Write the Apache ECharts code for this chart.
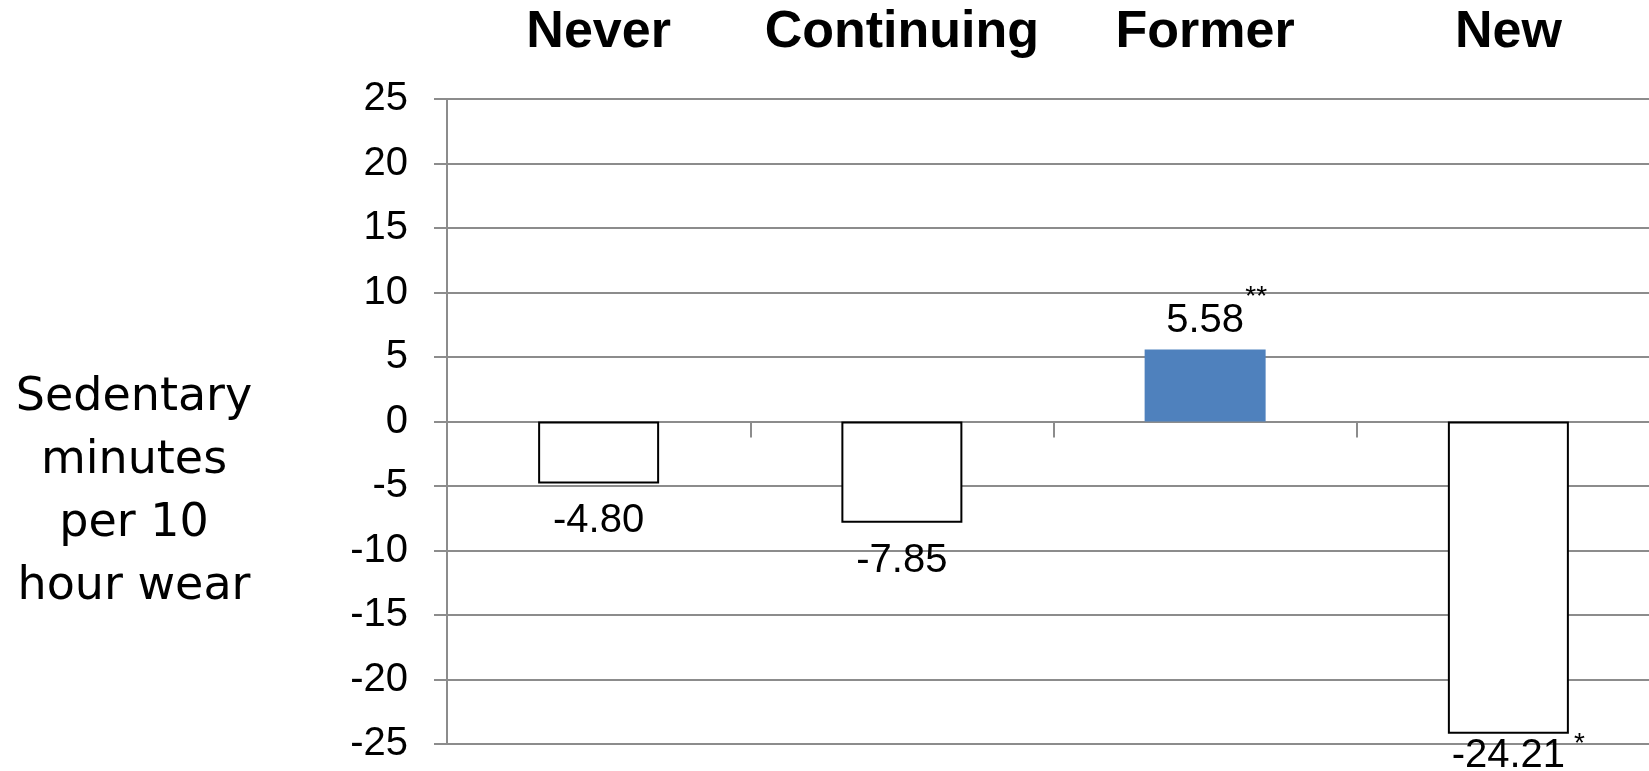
<!DOCTYPE html>
<html>
<head>
<meta charset="utf-8">
<script src="https://cdn.jsdelivr.net/npm/echarts@6/dist/echarts.min.js"></script>
<style>
  html, body { margin: 0; padding: 0; background: #ffffff; }
  #chart { width: 1649px; height: 771px; }
</style>
</head>
<body>
<div id="chart"></div>
<script>
// Change in sedentary minutes per 10 hours of wear, by group
const categories = ['Never', 'Continuing', 'Former', 'New'];
const changes = [-4.80, -7.85, 5.58, -24.21];
const significance = ['', '', '**', '*'];
const yMin = -25;
const yMax = 25;
const yStep = 5;
const yTitleLines = ['Sedentary', 'minutes', 'per 10', 'hour wear'];

const TITLE_FONT = '"DejaVu Sans", Verdana, sans-serif';
const NUM_FONT = '"Liberation Sans", Arial, sans-serif';
const GRID_GRAY = '#8c8c8c';

const chart = echarts.init(document.getElementById('chart'), null, { renderer: 'canvas' });

// value labels: above positive bars, below negative ones
const barData = changes.map((v, i) => ({
  value: v,
  itemStyle: v >= 0
    ? { color: '#4f81bd', borderWidth: 0 }
    : { color: '#ffffff', borderColor: '#000000', borderWidth: 2 },
  label: {
    show: true,
    position: v >= 0 ? 'top' : 'bottom',
    distance: v >= 0 ? 9 : (significance[i] ? 2 : 18)
  }
}));

// significance markers sit at the outer corner of their bar
const markData = changes.map((v, i) => ({
  value: v,
  label: significance[i]
    ? {
        show: true,
        position: v >= 0 ? 'top' : 'bottom',
        distance: v >= 0 ? 38 : -4,
        offset: v >= 0 ? [51, 0] : [71, 0]
      }
    : { show: false }
}));

chart.setOption({
  animation: false,
  backgroundColor: '#ffffff',
  grid: { left: 447, top: 99, width: 1213, height: 645, containLabel: false, outerBoundsMode: 'none' },
  xAxis: [
    {
      type: 'category',
      data: categories,
      position: 'bottom',
      boundaryGap: true,
      axisLine: { show: true, onZero: true, lineStyle: { color: GRID_GRAY, width: 2 } },
      axisTick: { show: true, length: 16, alignWithLabel: false, lineStyle: { color: GRID_GRAY, width: 2 } },
      axisLabel: { show: false },
      splitLine: { show: false }
    },
    {
      type: 'category',
      data: categories,
      position: 'top',
      boundaryGap: true,
      axisLine: { show: false },
      axisTick: { show: false },
      splitLine: { show: false },
      axisLabel: {
        show: true,
        interval: 0,
        margin: 66,
        verticalAlign: 'middle',
        color: '#000',
        fontFamily: '"Liberation Sans", Arial, sans-serif',
        fontWeight: 'bold',
        fontSize: 52
      }
    }
  ],
  yAxis: {
    type: 'value',
    min: yMin,
    max: yMax,
    interval: yStep,
    axisLine: { show: true, lineStyle: { color: GRID_GRAY, width: 2 } },
    axisTick: { show: true, length: 13, lineStyle: { color: GRID_GRAY, width: 2 } },
    axisLabel: { show: true, margin: 39, color: '#000', fontFamily: NUM_FONT, fontSize: 40 },
    splitLine: { show: true, lineStyle: { color: GRID_GRAY, width: 2 } }
  },
  graphic: [
    {
      type: 'text',
      x: 134,
      y: 493,
      style: {
        text: yTitleLines.join('\n'),
        fill: '#000',
        font: '46px ' + TITLE_FONT,
        lineHeight: 63,
        align: 'center',
        verticalAlign: 'middle'
      }
    }
  ],
  series: [
    {
      name: 'change',
      type: 'bar',
      xAxisIndex: 0,
      yAxisIndex: 0,
      data: barData,
      barWidth: 121,
      barGap: '-100%',
      label: {
        color: '#000',
        fontFamily: NUM_FONT,
        fontSize: 40,
        lineHeight: 40,
        formatter: (p) => p.value.toFixed(2)
      }
    },
    {
      name: 'significance',
      type: 'bar',
      xAxisIndex: 0,
      yAxisIndex: 0,
      data: markData,
      barWidth: 121,
      barGap: '-100%',
      silent: true,
      itemStyle: { color: 'rgba(0,0,0,0)', borderWidth: 0 },
      label: {
        color: '#000',
        fontFamily: NUM_FONT,
        fontSize: 28,
        lineHeight: 28,
        formatter: (p) => significance[p.dataIndex]
      }
    }
  ]
});
</script>
</body>
</html>
